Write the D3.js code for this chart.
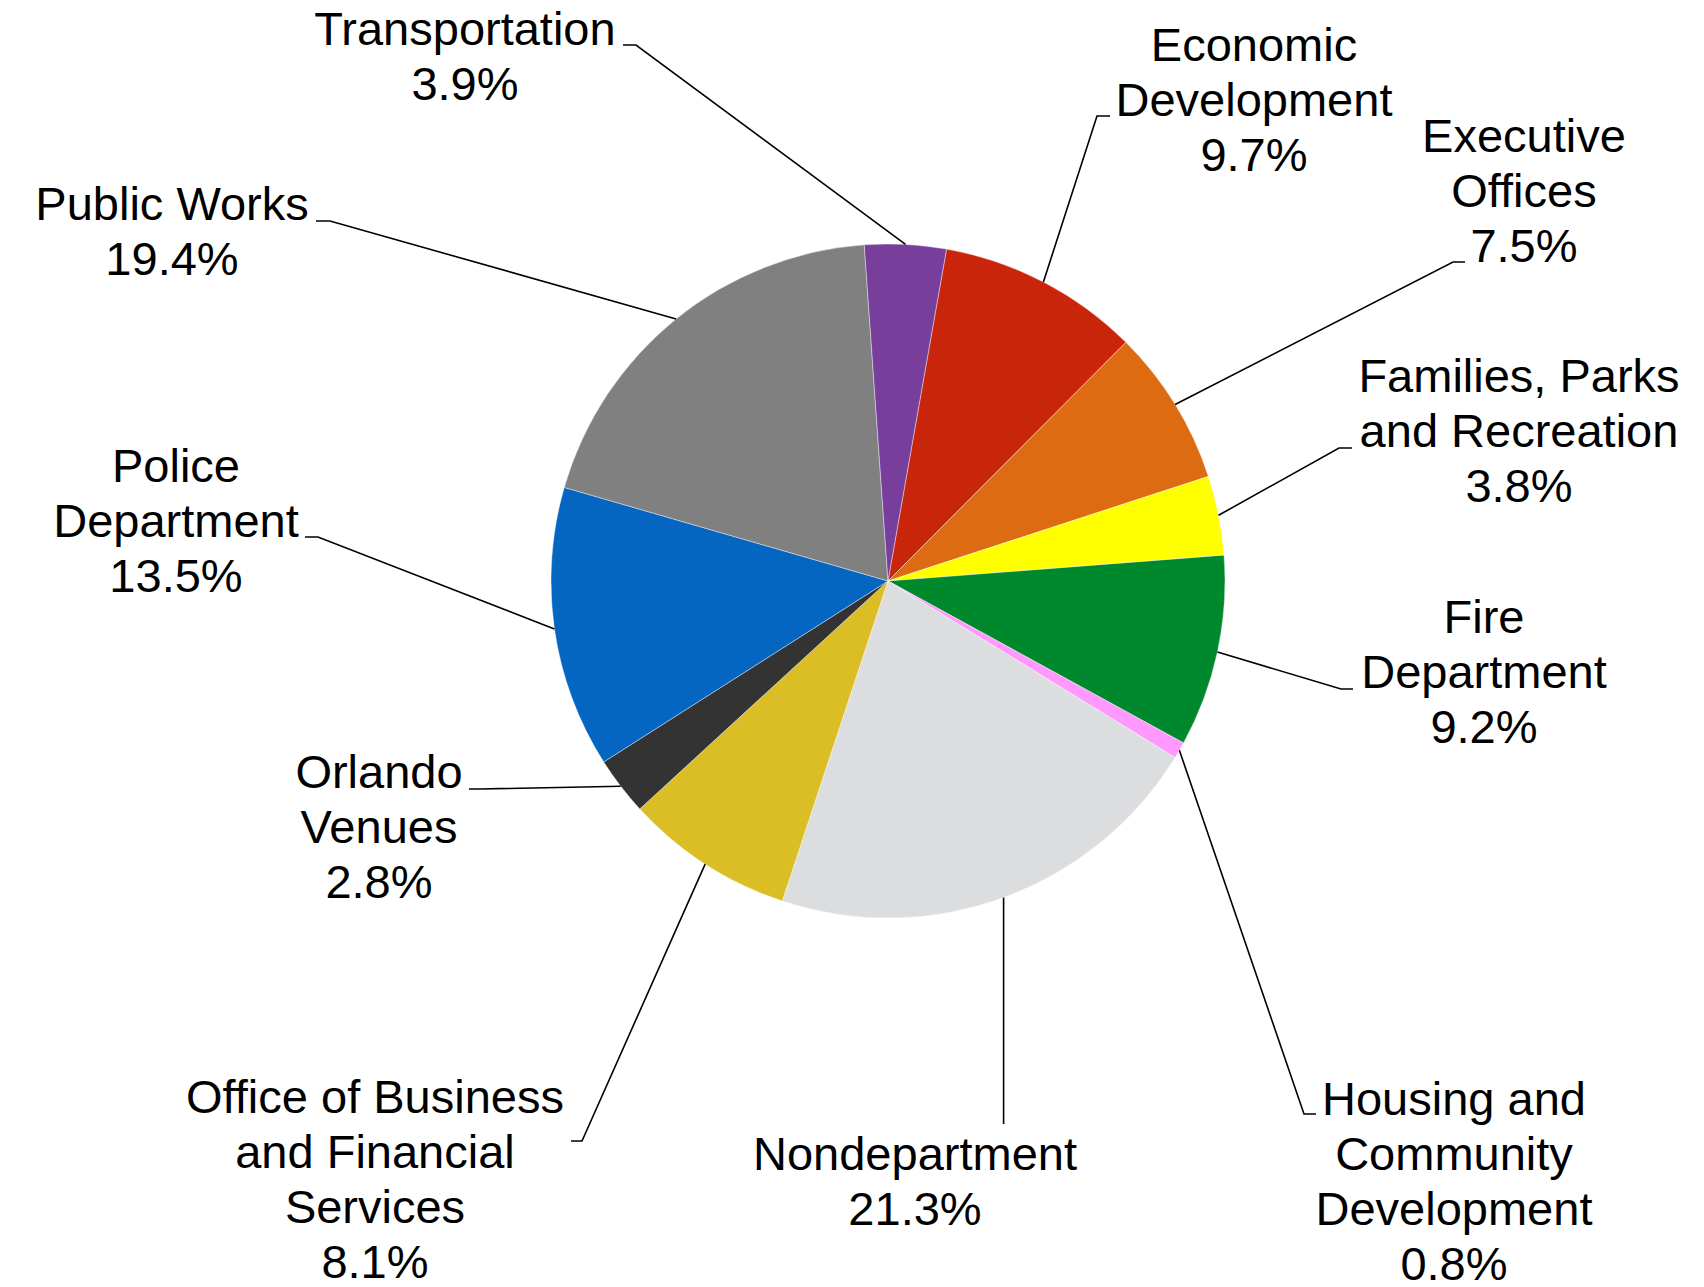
<!DOCTYPE html>
<html>
<head>
<meta charset="utf-8">
<script src="https://cdn.jsdelivr.net/npm/d3@7"></script>
<style>
  html, body { margin: 0; padding: 0; background: #ffffff; }
  svg { display: block; }
  text { font-family: "Liberation Sans", Arial, sans-serif; fill: #000; }
</style>
</head>
<body>
<svg id="chart" width="1704" height="1287"></svg>
<script>
// Budget share by department (percent of total)
const departments = [
  "Economic Development",
  "Executive Offices",
  "Families, Parks and Recreation",
  "Fire Department",
  "Housing and Community Development",
  "Nondepartment",
  "Office of Business and Financial Services",
  "Orlando Venues",
  "Police Department",
  "Public Works",
  "Transportation"
];
const shares = [9.7, 7.5, 3.8, 9.2, 0.8, 21.3, 8.1, 2.8, 13.5, 19.4, 3.9];
// Label text lines (name broken as printed, followed by the percent)
const labelLines = [
  ["Economic", "Development"],
  ["Executive", "Offices"],
  ["Families, Parks", "and Recreation"],
  ["Fire", "Department"],
  ["Housing and", "Community", "Development"],
  ["Nondepartment"],
  ["Office of Business", "and Financial", "Services"],
  ["Orlando", "Venues"],
  ["Police", "Department"],
  ["Public Works"],
  ["Transportation"]
];
const sliceColors = [
  "#C8250A", "#DD6B11", "#FFFF00", "#00882C", "#FF99FF", "#DCDDDF",
  "#DBBE25", "#333333", "#0466C1", "#808080", "#773F9B"
];

// Layout of the label blocks: centre x, first baseline, and leader elbow/end
const labelLayout = [
  { cx: 1254, y: 61,   elbow: [1097, 116], end: [1110, 116] },
  { cx: 1524, y: 152,  elbow: [1453, 262], end: [1465, 262] },
  { cx: 1519, y: 392,  elbow: [1339, 448], end: [1352, 448] },
  { cx: 1484, y: 633,  elbow: [1341, 689], end: [1353, 689] },
  { cx: 1454, y: 1115, elbow: [1304, 1114], end: [1316, 1114] },
  { cx: 915,  y: 1170, elbow: null, end: [null, 1124] },
  { cx: 375,  y: 1113, elbow: [582, 1141], end: [571, 1141] },
  { cx: 379,  y: 788,  elbow: [480, 789], end: [469, 789] },
  { cx: 176,  y: 482,  elbow: [318, 537], end: [305, 537] },
  { cx: 172,  y: 220,  elbow: [330, 221], end: [316, 221] },
  { cx: 465,  y: 45,   elbow: [636, 45],  end: [623, 45] }
];

const width = 1704, height = 1287;
const cx = 888, cy = 581, radius = 337;
const lineHeight = 55;
const start = 10 * Math.PI / 180;

const svg = d3.select("#chart");
svg.append("rect").attr("width", width).attr("height", height).attr("fill", "#fff");

const data = departments.map((name, i) => ({ name, value: shares[i], i }));

const pie = d3.pie()
  .sort(null)
  .value(d => d.value)
  .startAngle(start)
  .endAngle(start + 2 * Math.PI);

const arcs = pie(data);

const arc = d3.arc().innerRadius(0).outerRadius(radius);
const rim = d3.arc().innerRadius(radius).outerRadius(radius);

const g = svg.append("g").attr("transform", `translate(${cx},${cy})`);

g.selectAll("path.slice")
  .data(arcs)
  .join("path")
  .attr("class", "slice")
  .attr("d", arc)
  .attr("fill", d => sliceColors[d.data.i])
  .attr("stroke", "#ffffff")
  .attr("stroke-width", 0.4);

// Leader lines from the slice rim to each label
const leaders = svg.append("g")
  .attr("fill", "none")
  .attr("stroke", "#000")
  .attr("stroke-width", 1.6);

arcs.forEach(d => {
  const lay = labelLayout[d.data.i];
  const [px, py] = rim.centroid(d);
  const p0 = [cx + px, cy + py];
  let pts;
  if (lay.elbow) {
    pts = [p0, lay.elbow, lay.end];
  } else {
    pts = [p0, [p0[0], lay.end[1]]];
  }
  leaders.append("path").attr("d", d3.line()(pts));
});

// Label blocks
const labels = svg.append("g")
  .attr("font-size", 47)
  .attr("text-anchor", "middle");

arcs.forEach(d => {
  const lay = labelLayout[d.data.i];
  const lines = labelLines[d.data.i].concat([d.data.value.toFixed(1) + "%"]);
  const t = labels.append("text")
    .attr("x", lay.cx)
    .attr("y", lay.y);
  lines.forEach((ln, k) => {
    t.append("tspan")
      .attr("x", lay.cx)
      .attr("dy", k === 0 ? 0 : lineHeight)
      .text(ln);
  });
});
</script>
</body>
</html>
